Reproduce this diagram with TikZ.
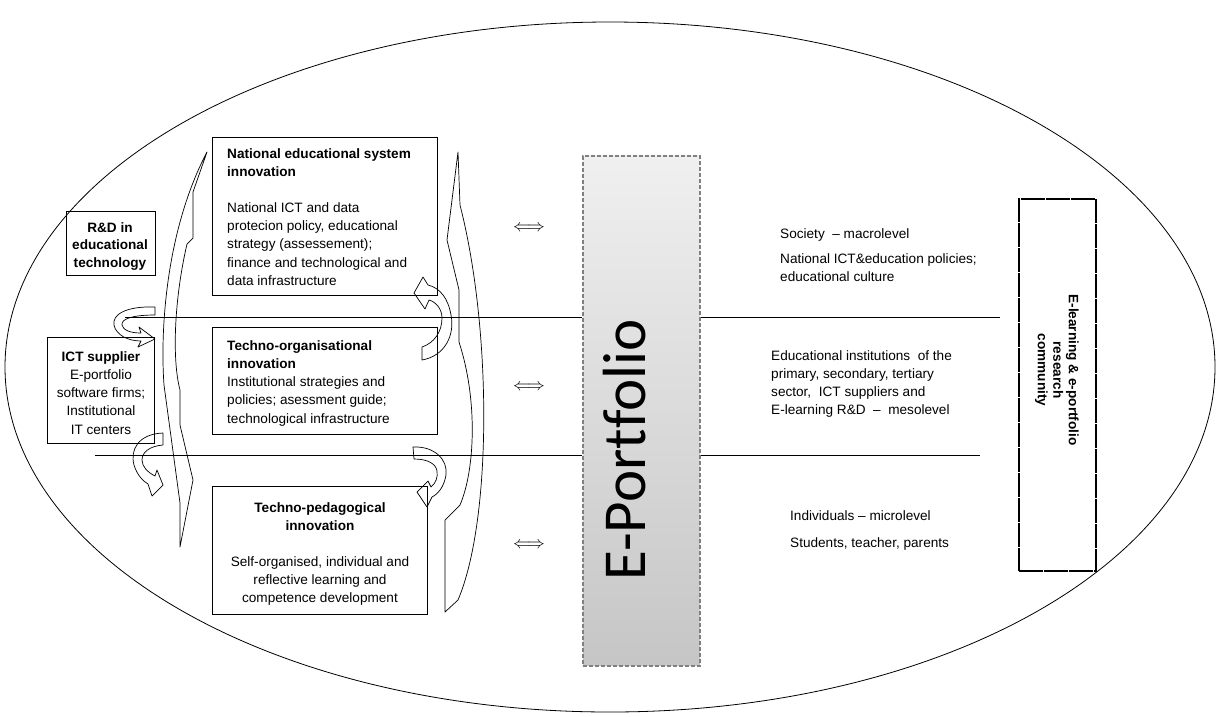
\documentclass[tikz,border=0pt]{standalone}
\usepackage{fontspec}
\setmainfont{Liberation Sans}
\newfontfamily\calfont[Ligatures={NoCommon}]{Carlito}
\usetikzlibrary{positioning}
\tikzset{
  panel/.style={draw, line width=0.8pt, inner sep=0pt, anchor=north west},
  txt/.style={inner sep=0pt, font=\fontsize{13.6}{18.3}\selectfont},
  bent/.style={line width=0.7pt, line join=round},
  swapsign/.style={inner sep=0pt, font=\fontsize{17}{17}\selectfont}
}
\begin{document}
\begin{tikzpicture}[x=1pt,y=-1pt]
\useasboundingbox (0,0) rectangle (1218,716);
\draw[line width=0.8pt] (610,367) ellipse [x radius=605pt, y radius=345pt];

\node[panel, draw=gray, line width=1.6pt, dash pattern=on 4pt off 2pt,
      top color=gray!12, bottom color=gray!45,
      minimum width=117pt, minimum height=510pt] (eport) at (582,155) {};
\node[inner sep=0pt, rotate=90, anchor=base, font=\calfont\fontsize{61}{61}\selectfont] (eporttxt) at (645,450) {E-Portfolio};

\coordinate (macroL) at (125,317);
\coordinate (mesoL) at (95,455);
\coordinate (macroR) at (1000,317);
\coordinate (mesoR) at (980,455);
\draw[line width=0.8pt] (macroL) -- (macroL -| eport.west);
\draw[line width=0.8pt] (mesoL) -- (mesoL -| eport.west);
\draw[line width=0.8pt] (eport.east |- macroR) -- (macroR);
\draw[line width=0.8pt] (eport.east |- mesoR) -- (mesoR);

\node[panel, minimum width=225pt, minimum height=158pt] (nes) at (212,137) {};
\node[txt, anchor=north west, align=left] (nestxt) at (227,148)
  {\textbf{National educational system}\\\textbf{innovation}\\[17.7pt]
   National ICT and data\\protecion policy, educational\\strategy (assessement);\\
   finance and technological and\\data infrastructure};

\node[panel, minimum width=225pt, minimum height=107pt] (tor) at (212,327) {};
\node[txt, anchor=north west, align=left] (tortxt) at (227,340)
  {\textbf{Techno-organisational}\\\textbf{innovation}\\
   Institutional strategies and\\policies; asessment guide;\\technological infrastructure};

\node[panel, minimum width=215pt, minimum height=128pt] (tpd) at (212,486) {};
\node[txt, anchor=north, align=center] (tpdtxt) at (320,502)
  {\textbf{Techno-pedagogical}\\\textbf{innovation}\\[17.7pt]
   Self-organised, individual and\\reflective learning and\\competence development};

\node[panel, minimum width=89pt, minimum height=64pt] (rnd) at (66,211) {};
\node[txt, anchor=north, align=center, font=\bfseries\fontsize{13.6}{17.5}\selectfont] (rndtxt) at (110,222)
  {R\&D in\\educational\\technology};

\node[panel, minimum width=107pt, minimum height=106pt] (ict) at (47,337) {};
\node[txt, anchor=north, align=center] (icttxt) at (101,351)
  {\textbf{ICT supplier}\\E-portfolio\\software firms;\\Institutional\\IT centers};

\node[swapsign] (swapA) at (529,228) {$\Longleftrightarrow$};
\node[swapsign] (swapB) at (529,387) {$\Longleftrightarrow$};
\node[swapsign] (swapC) at (529,545) {$\Longleftrightarrow$};

\node[txt, anchor=base west] (macrohead) at (780,238) {Society~ -- macrolevel};
\node[txt, anchor=north west, align=left] (macrobody) at (780,253)
  {National ICT\&education policies;\\educational culture};
\node[txt, anchor=north west, align=left] (mesobody) at (771,350)
  {Educational institutions~ of the\\primary, secondary, tertiary\\sector,~ ICT suppliers and\\E-learning R\&D~ --~ mesolevel};
\node[txt, anchor=base west] (microhead) at (790,520) {Individuals -- microlevel};
\node[txt, anchor=base west] (microbody) at (790,547) {Students, teacher, parents};

\node[panel, line width=2.2pt, dash pattern=on 24pt off 1pt,
      minimum width=77pt, minimum height=372pt] (elrc) at (1018,198) {};
\node[txt, rotate=-90, align=center, font=\bfseries\fontsize{13.6}{15.5}\selectfont] (elrctxt) at (1057,370)
  {E-learning \& e-portfolio\\research\\community};

\draw[bent] (207,152) -- (193,192) -- (193,238) -- (187,244)
  .. controls (174,300) and (172,360) .. (180,390) -- (180,425) -- (193,480)
  -- (180,547) -- (180,503) -- (164,385)
  .. controls (160,330) and (166,230) .. (207,152) -- cycle;
\draw[bent] (458,152) -- (447,240) -- (459,290) -- (459,342)
  .. controls (478,400) and (475,470) .. (460,505) -- (445,520) -- (445,612)
  -- (458,600) .. controls (492,520) and (492,330) .. (460,205) -- cycle;

\draw[bent] (155,307) .. controls (125,306) and (112,315) .. (114,325)
  .. controls (116,335) and (128,341) .. (141,341) -- (138,347) -- (155,339)
  -- (139,327) -- (141,333) .. controls (130,333) and (123,330) .. (122,325)
  .. controls (121,319) and (132,315) .. (155,315) -- cycle;
\draw[bent] (163,433) .. controls (138,434) and (130,450) .. (134,465)
  .. controls (137,475) and (143,481) .. (148,484) -- (152,496) -- (163,485)
  -- (157,470) -- (155,476) .. controls (147,472) and (142,466) .. (142,460)
  .. controls (142,452) and (150,446) .. (163,445) -- cycle;
\draw[bent] (422,360) .. controls (445,356) and (455,335) .. (451,315)
  .. controls (448,298) and (440,288) .. (428,285) -- (423,277) -- (414,293)
  -- (425,309) -- (429,300) .. controls (436,302) and (442,309) .. (442,318)
  .. controls (442,332) and (434,343) .. (422,347) -- cycle;
\draw[bent] (413,447) .. controls (435,446) and (448,460) .. (446,475)
  .. controls (444,487) and (438,494) .. (432,497) -- (427,507) -- (417,492)
  -- (428,481) -- (431,487) .. controls (436,483) and (438,477) .. (437,471)
  .. controls (436,464) and (428,459) .. (414,459) -- cycle;

\end{tikzpicture}
\end{document}
